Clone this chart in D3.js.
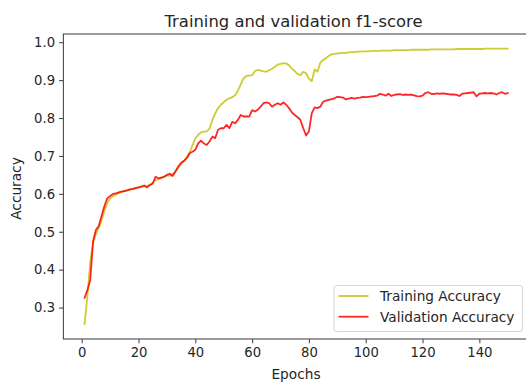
<!DOCTYPE html>
<html>
<head>
<meta charset="utf-8">
<script src="https://cdn.jsdelivr.net/npm/d3@7"></script>
<style>
  html, body { margin: 0; padding: 0; background: #ffffff; }
  svg { display: block; font-family: "DejaVu Sans", sans-serif; }
</style>
</head>
<body>
<svg id="chart" width="526" height="385"></svg>
<script>
// Per-epoch f1-scores, epochs 1..150
const trainingAccuracy = [
  0.257, 0.330, 0.420, 0.470, 0.495, 0.510, 0.530, 0.555, 0.575, 0.588,
  0.594, 0.598, 0.602, 0.605, 0.607, 0.609, 0.611, 0.613, 0.615, 0.617,
  0.619, 0.620, 0.621, 0.624, 0.627, 0.637, 0.638, 0.641, 0.645, 0.649,
  0.648, 0.652, 0.659, 0.669, 0.679, 0.686, 0.697, 0.709, 0.728, 0.746,
  0.756, 0.762, 0.764, 0.765, 0.772, 0.795, 0.812, 0.826, 0.835, 0.842,
  0.848, 0.852, 0.855, 0.860, 0.872, 0.889, 0.905, 0.911, 0.912, 0.913,
  0.924, 0.927, 0.925, 0.923, 0.922, 0.926, 0.930, 0.935, 0.941, 0.943,
  0.944, 0.944, 0.939, 0.930, 0.924, 0.916, 0.913, 0.922, 0.918, 0.904,
  0.897, 0.928, 0.922, 0.946, 0.953, 0.958, 0.964, 0.968, 0.969, 0.970,
  0.971, 0.972, 0.972, 0.973, 0.974, 0.974, 0.975, 0.975, 0.976, 0.976,
  0.976, 0.977, 0.977, 0.977, 0.977, 0.978, 0.978, 0.978, 0.978, 0.979,
  0.979, 0.979, 0.979, 0.979, 0.979, 0.980, 0.980, 0.980, 0.980, 0.980,
  0.980, 0.980, 0.981, 0.981, 0.981, 0.981, 0.981, 0.981, 0.981, 0.981,
  0.981, 0.982, 0.982, 0.982, 0.982, 0.982, 0.982, 0.982, 0.982, 0.982,
  0.982, 0.983, 0.983, 0.983, 0.983, 0.983, 0.983, 0.983, 0.983, 0.983
];

const validationAccuracy = [
  0.326, 0.346, 0.373, 0.475, 0.505, 0.515, 0.542, 0.568, 0.588, 0.594,
  0.600, 0.601, 0.604, 0.606, 0.607, 0.609, 0.612, 0.613, 0.615, 0.617,
  0.619, 0.622, 0.617, 0.623, 0.628, 0.645, 0.641, 0.643, 0.645, 0.650,
  0.653, 0.647, 0.659, 0.672, 0.682, 0.687, 0.694, 0.707, 0.711, 0.716,
  0.733, 0.740, 0.733, 0.729, 0.738, 0.751, 0.747, 0.769, 0.773, 0.773,
  0.782, 0.773, 0.790, 0.786, 0.795, 0.808, 0.804, 0.804, 0.804, 0.821,
  0.817, 0.822, 0.830, 0.839, 0.841, 0.839, 0.830, 0.835, 0.839, 0.835,
  0.841, 0.835, 0.826, 0.815, 0.808, 0.802, 0.795, 0.773, 0.754, 0.765,
  0.813, 0.828, 0.826, 0.830, 0.843, 0.846, 0.848, 0.850, 0.852, 0.856,
  0.855, 0.854, 0.849, 0.851, 0.853, 0.851, 0.853, 0.854, 0.856, 0.855,
  0.856, 0.857, 0.858, 0.859, 0.864, 0.862, 0.859, 0.864, 0.858, 0.861,
  0.862, 0.863, 0.861, 0.862, 0.861, 0.862, 0.860, 0.858, 0.857, 0.859,
  0.866, 0.868, 0.864, 0.863, 0.865, 0.864, 0.865, 0.864, 0.863, 0.862,
  0.862, 0.861, 0.858, 0.864, 0.865, 0.866, 0.867, 0.868, 0.857, 0.864,
  0.865, 0.866, 0.865, 0.866, 0.865, 0.862, 0.866, 0.868, 0.864, 0.866
];

const epochs = d3.range(1, trainingAccuracy.length + 1);
const xTicks = [0, 20, 40, 60, 80, 100, 120, 140];
const yTicks = [0.3, 0.4, 0.5, 0.6, 0.7, 0.8, 0.9, 1.0];

const seriesNames = ["Training Accuracy", "Validation Accuracy"];
const seriesColors = ["#bfbf00", "#ff0000"];

const titleText = "Training and validation f1-score";
const xLabelText = "Epochs";
const yLabelText = "Accuracy";

// Axes box (right spine falls just outside the canvas)
const plot = { left: 63.4, right: 528.9, top: 34, bottom: 339 };

const svg = d3.select("#chart");

const x = d3.scaleLinear().domain([-6.45, 157.45]).range([plot.left, plot.right]);
const y = d3.scaleLinear().domain([0.2172, 1.0216]).range([plot.bottom, plot.top]);

const textColor = "#262626";
const spineColor = "#4a4a4a";
const tickFont = 13.2;
const labelFont = 13.7;
const titleFont = 16.4;

// Series lines
const line = d3.line()
  .x((d, i) => x(epochs[i]))
  .y(d => y(d));

[trainingAccuracy, validationAccuracy].forEach((vals, k) => {
  svg.append("path")
    .datum(vals)
    .attr("fill", "none")
    .attr("stroke", seriesColors[k])
    .attr("stroke-width", 1.8)
    .attr("stroke-linejoin", "round")
    .attr("stroke-linecap", "square")
    .attr("opacity", k === 0 ? 0.8 : 0.85)
    .attr("d", line);
});

// Spines
svg.append("rect")
  .attr("x", plot.left)
  .attr("y", plot.top)
  .attr("width", plot.right - plot.left)
  .attr("height", plot.bottom - plot.top)
  .attr("fill", "none")
  .attr("stroke", spineColor)
  .attr("stroke-width", 1.1);

// Axes
const xAxis = d3.axisBottom(x).tickValues(xTicks).tickSize(4.3).tickPadding(4).tickFormat(d3.format("d"));
const yAxis = d3.axisLeft(y).tickValues(yTicks).tickSize(4.3).tickPadding(4).tickFormat(d3.format(".1f"));

const gx = svg.append("g").attr("transform", `translate(0,${plot.bottom})`).call(xAxis);
const gy = svg.append("g").attr("transform", `translate(${plot.left},0)`).call(yAxis);

[gx, gy].forEach(g => {
  g.select(".domain").remove();
  g.selectAll(".tick line").attr("stroke", spineColor).attr("stroke-width", 1.1);
  g.selectAll(".tick text")
    .attr("fill", textColor)
    .attr("font-size", tickFont)
    .attr("font-family", "DejaVu Sans, sans-serif");
});

// Title and axis labels
svg.append("text")
  .attr("x", 293.5)
  .attr("y", 26.5)
  .attr("text-anchor", "middle")
  .attr("font-size", titleFont)
  .attr("fill", textColor)
  .text(titleText);

svg.append("text")
  .attr("x", 296)
  .attr("y", 378.5)
  .attr("text-anchor", "middle")
  .attr("font-size", labelFont)
  .attr("fill", textColor)
  .text(xLabelText);

svg.append("text")
  .attr("transform", `translate(21,${(plot.top + plot.bottom) / 2 + 2}) rotate(-90)`)
  .attr("text-anchor", "middle")
  .attr("font-size", labelFont)
  .attr("fill", textColor)
  .text(yLabelText);

// Legend
const legend = svg.append("g").attr("transform", "translate(334,285.5)");
legend.append("rect")
  .attr("width", 188.5)
  .attr("height", 46)
  .attr("rx", 2.5)
  .attr("fill", "#ffffff")
  .attr("fill-opacity", 0.8)
  .attr("stroke", "#d6d6d6")
  .attr("stroke-width", 1);

seriesNames.forEach((name, k) => {
  const cy = 10.5 + k * 20.7;
  legend.append("line")
    .attr("x1", 4.5).attr("x2", 34.5)
    .attr("y1", cy).attr("y2", cy)
    .attr("stroke", seriesColors[k])
    .attr("stroke-width", 1.8)
    .attr("opacity", k === 0 ? 0.8 : 0.85);
  legend.append("text")
    .attr("x", 46)
    .attr("y", cy + 4.8)
    .attr("font-size", labelFont)
    .attr("fill", textColor)
    .text(name);
});
</script>
</body>
</html>
